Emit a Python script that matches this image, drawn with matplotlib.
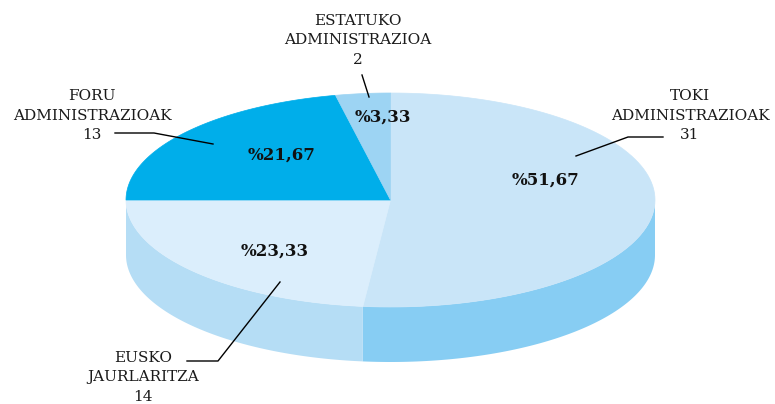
import matplotlib

matplotlib.use("Agg")

import matplotlib.pyplot as plt
import numpy as np
from matplotlib.patches import Polygon

# slices, clockwise from 12 o'clock
categories = ["TOKI\nADMINISTRAZIOAK", "EUSKO\nJAURLARITZA", "FORU\nADMINISTRAZIOAK", "ESTATUKO\nADMINISTRAZIOA"]
counts = [31, 14, 13, 2]
top_colors = ["#C9E5F8", "#DBEEFC", "#00AEEA", "#9DD4F3"]
side_colors = ["#87CDF3", "#B5DDF5", "#0090C8", "#7CC3EE"]

# label placement (pixel coords, top-center of each label block)
label_xy = [(690, 89), (143, 351), (92, 89), (358, 14)]
pct_xy = [(545, 180), (275, 251), (282, 155), (383, 117)]
leaders = [
    [(576, 156), (628, 137), (663, 137)],
    [(280, 282), (218, 361), (187, 361)],
    [(213, 144), (154, 133), (115, 133)],
    [(369, 97), (362, 75)],
]

cx, cy, rx, ry, depth = 390.5, 200, 264.5, 107, 55

fig = plt.figure(figsize=(7.75, 4.04), dpi=100)
ax = fig.add_axes([0, 0, 1, 1])
ax.set_xlim(0, 775)
ax.set_ylim(404, 0)
ax.axis("off")

total = sum(counts)
fracs = np.array(counts) / total
edges = 90 - 360 * np.concatenate([[0], np.cumsum(fracs)])


def arc(t1, t2, dy=0, n=100):
    t = np.radians(np.linspace(t1, t2, n))
    return np.column_stack([cx + rx * np.cos(t), cy - ry * np.sin(t) + dy])


# side walls: only the front half (angles between -180 and 0)
for i in range(len(counts)):
    a_start, a_end = edges[i], edges[i + 1]
    segs = []
    for shift in (0, 360):
        lo, hi = max(a_end + shift, -180), min(a_start + shift, 0)
        if hi > lo:
            segs.append((lo, hi))
    for lo, hi in segs:
        top = arc(hi, lo)
        bot = arc(lo, hi, dy=depth)
        ax.add_patch(Polygon(np.vstack([top, bot]), closed=True,
                             facecolor=side_colors[i], edgecolor="none"))

# top faces
for i in range(len(counts)):
    pts = np.vstack([[cx, cy], arc(edges[i], edges[i + 1])])
    ax.add_patch(Polygon(pts, closed=True, facecolor=top_colors[i],
                         edgecolor=top_colors[i], linewidth=0.5))

for i, name in enumerate(categories):
    x, y = label_xy[i]
    ax.text(x, y, f"{name}\n{counts[i]}", ha="center", va="top",
            fontsize=11, family="DejaVu Serif", linespacing=1.5, color="#1a1a1a")
    px, py = pct_xy[i]
    pct = f"%{fracs[i] * 100:.2f}".replace(".", ",")
    ax.text(px, py, pct, ha="center", va="center", fontsize=12,
            fontweight="bold", family="DejaVu Serif", color="#111111")
    lx, ly = zip(*leaders[i])
    ax.plot(lx, ly, color="black", linewidth=1)

fig.savefig("out.png", dpi=100)
plt.close(fig)
